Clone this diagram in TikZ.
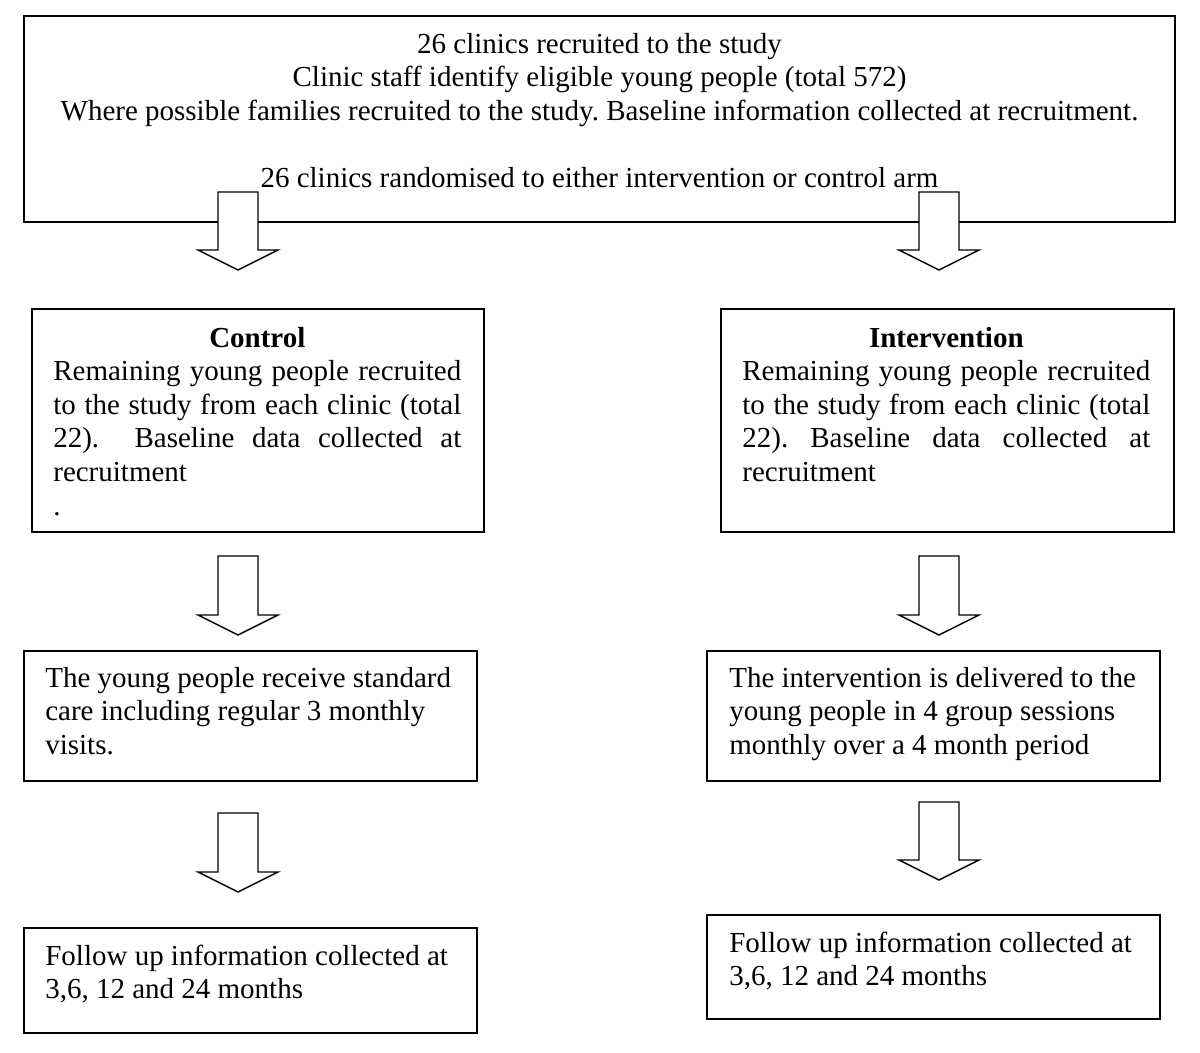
\documentclass[tikz,border=0pt]{standalone}
\usepackage{fontspec}
\setmainfont{Liberation Serif}
\usetikzlibrary{calc}
\frenchspacing

% hollow block arrow from #1 (top of shaft) to #2 (tip)
\newcommand{\blockarrow}[2]{%
  \draw[hollow] ($(#1)+(-20,0)$) -- ($(#2)+(-20,-20)$) -- ($(#2)+(-40,-20)$)
    -- (#2) -- ($(#2)+(40,-20)$) -- ($(#2)+(20,-20)$) -- ($(#1)+(20,0)$) -- cycle;}
% one justified line
\newcommand{\fillline}[1]{\leavevmode\hbox to 8.16cm{\spaceskip=0.25em plus 1fil\relax #1}}

\begin{document}
\begin{tikzpicture}[x=0.02cm, y=-0.02cm,
    box/.style={draw, line width=1.1pt, anchor=north west, inner sep=0},
    txt/.style={inner sep=0, font=\fontsize{16.5}{19.1}\selectfont},
    hollow/.style={draw, fill=white, line width=0.8pt, line join=miter}]
    \useasboundingbox (0,0) rectangle (1200,1053);

    % boxes
    \node[box, minimum width=23.02cm, minimum height=4.12cm] at (23, 15)  (clinics) {};
    \node[box, minimum width=9.04cm, minimum height=4.46cm]  at (31, 308)  (control) {};
    \node[box, minimum width=9.06cm, minimum height=4.46cm]  at (720, 308) (interv) {};
    \node[box, minimum width=9.06cm, minimum height=2.6cm]   at (23, 650)  (care) {};
    \node[box, minimum width=9.06cm, minimum height=2.6cm]   at (706, 650) (deliver) {};
    \node[box, minimum width=9.06cm, minimum height=2.1cm]   at (23, 927)  (followc) {};
    \node[box, minimum width=9.06cm, minimum height=2.08cm]  at (706, 914) (followi) {};

    % texts
    \node[txt, align=center, anchor=north] at (599.5, 29.4) (clinicstxt)
        {\strut 26 clinics recruited to the study\\
         Clinic staff identify eligible young people (total 572)\\
         Where possible families recruited to the study. Baseline information collected at recruitment.\\
         \strut\\
         26 clinics randomised to either intervention or control arm};
    \node[txt, text width=8.16cm, align=left, anchor=north west] at (53, 323.4) (controltxt)
        {\strut\makebox[8.16cm]{\textbf{Control}}\\
         \fillline{Remaining young people recruited}\\
         \fillline{to the study from each clinic (total}\\
         \fillline{22).\ \ Baseline data collected at}\\
         recruitment\\
         .};
    \node[txt, text width=8.16cm, align=left, anchor=north west] at (742, 323.4) (intervtxt)
        {\strut\makebox[8.16cm]{\textbf{Intervention}}\\
         \fillline{Remaining young people recruited}\\
         \fillline{to the study from each clinic (total}\\
         \fillline{22). Baseline data collected at}\\
         recruitment};
    \node[txt, align=left, anchor=north west] at (45, 663.4) (caretxt)
        {\strut The young people receive standard\\
         care including regular 3 monthly\\
         visits.};
    \node[txt, align=left, anchor=north west] at (729, 663.4) (delivertxt)
        {\strut The intervention is delivered to the\\
         young people in 4 group sessions\\
         monthly over a 4 month period};
    \node[txt, align=left, anchor=north west] at (45, 941.4) (followctxt)
        {\strut Follow up information collected at\\
         3,6, 12 and 24 months};
    \node[txt, align=left, anchor=north west] at (729, 928.4) (followitxt)
        {\strut Follow up information collected at\\
         3,6, 12 and 24 months};

    % draw arrows
    \coordinate (c1) at (238, 192);
    \coordinate (c2) at (238, 270);
    \coordinate (c3) at (238, 556);
    \coordinate (c4) at (238, 635);
    \coordinate (c5) at (238, 813);
    \coordinate (c6) at (238, 892);
    \coordinate (i1) at (939, 192);
    \coordinate (i2) at (939, 270);
    \coordinate (i3) at (939, 556);
    \coordinate (i4) at (939, 635);
    \coordinate (i5) at (939, 802);
    \coordinate (i6) at (939, 880);

    \blockarrow{c1}{c2}
    \blockarrow{c3}{c4}
    \blockarrow{c5}{c6}
    \blockarrow{i1}{i2}
    \blockarrow{i3}{i4}
    \blockarrow{i5}{i6}

\end{tikzpicture}
\end{document}
